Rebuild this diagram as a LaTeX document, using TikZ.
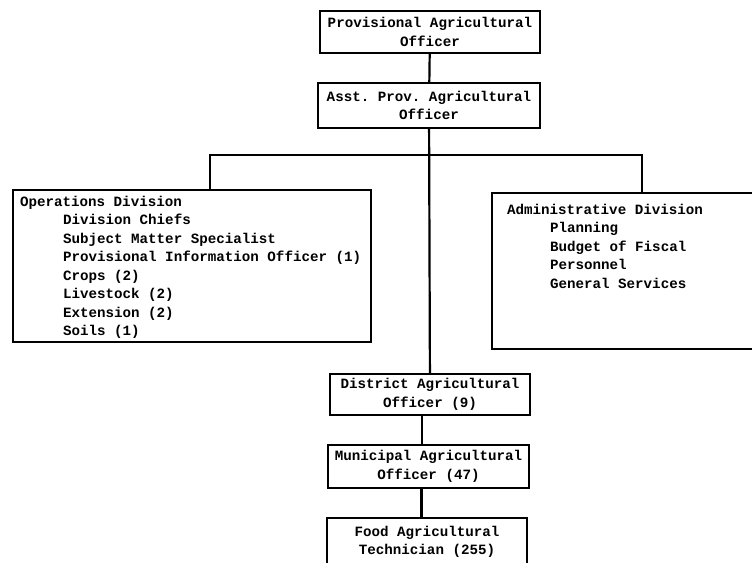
\documentclass[tikz,border=0pt]{standalone}
\usepackage{fontspec}
\setmonofont{Liberation Mono}
\usepackage{tikz}

\newcommand{\indln}{\hspace*{43pt}}

\begin{document}
\begin{tikzpicture}[x=1pt,y=-1pt,
    box/.style={draw, line width=2pt, inner sep=0pt, align=center,
      font=\ttfamily\bfseries\fontsize{14.2}{18.5}\selectfont},
    link/.style={line width=2.2pt}]
  \clip (0,0) rectangle (752,562);
  \fill[white] (0,0) rectangle (752,562);

  \node[box, minimum width=220, minimum height=42] (prov) at (430,32) {Provisional Agricultural\\Officer};
  \node[box, minimum width=222, minimum height=45] (asst) at (429,105.5) {Asst. Prov. Agricultural\\Officer};

  \node[box, inner xsep=7pt] (ops) at (192,266)
    {\parbox[c][152pt][t]{344pt}{\vspace*{6pt}Operations Division\\
      \indln Division Chiefs\\
      \indln Subject Matter Specialist\\
      \indln Provisional Information Officer (1)\\
      \indln Crops (2)\\
      \indln Livestock (2)\\
      \indln Extension (2)\\
      \indln Soils (1)}};
  \node[box, inner xsep=15pt] (admin) at (627,271)
    {\parbox[c][156pt][t]{240pt}{\vspace*{11pt}Administrative Division\\
      \indln Planning\\
      \indln Budget of Fiscal\\
      \indln Personnel\\
      \indln General Services}};

  \node[box, minimum width=200, minimum height=41] (dist) at (430,394.5) {District Agricultural\\Officer (9)};
  \node[box, minimum width=201, minimum height=43] (muni) at (428.5,466.5) {Municipal Agricultural\\Officer (47)};
  \node[box, minimum width=200, minimum height=48] (food) at (427,542) {Food Agricultural\\Technician (255)};

  \coordinate (busL) at (210,155);
  \coordinate (busR) at (642,155);

  \draw[link] (prov) -- (asst);
  \draw[link] (asst) -- (dist);
  \draw[link] (ops.north -| busL) |- (busR) -- (admin.north -| busR);
  \draw[link] ([xshift=-8pt]dist.south) -- ([xshift=-8pt]dist.south |- muni.north);
  \draw[link] ([xshift=-7pt]muni.south) -- ([xshift=-7pt]muni.south |- food.north);
\end{tikzpicture}
\end{document}
